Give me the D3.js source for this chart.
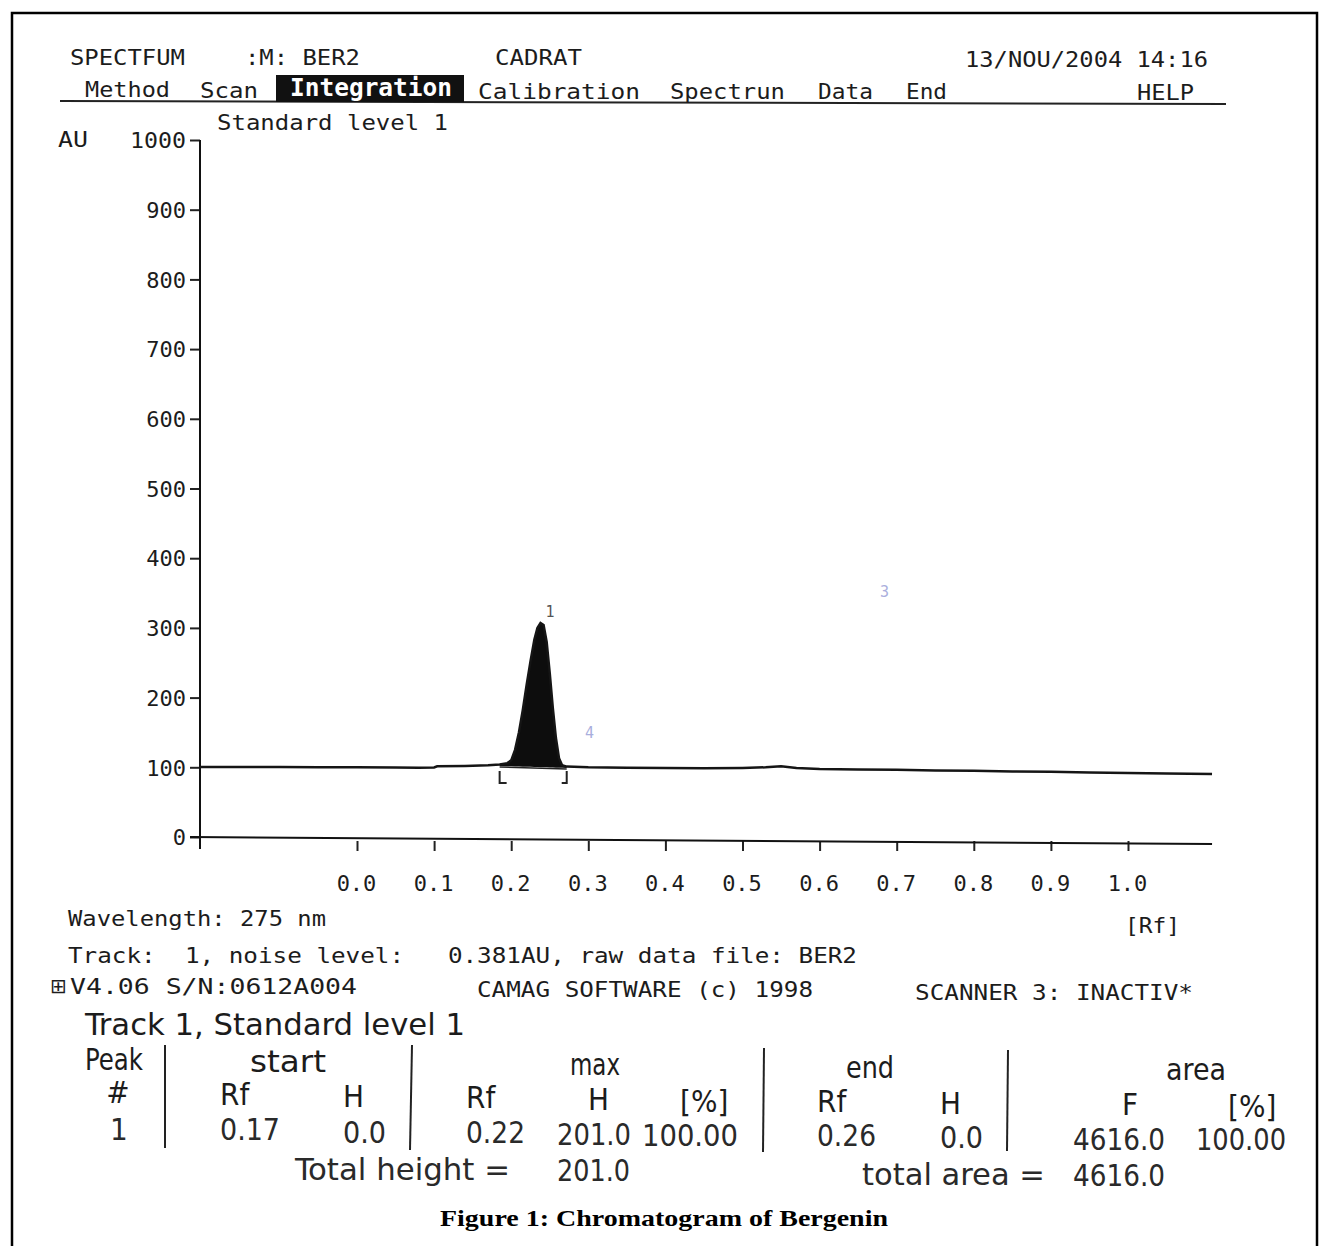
<!DOCTYPE html>
<html>
<head>
<meta charset="utf-8">
<script src="https://cdn.jsdelivr.net/npm/d3@7"></script>
<style>
  body { margin: 0; background: #fff; }
  svg text { white-space: pre; }
</style>
</head>
<body>
<div id="chart"></div>
<script>
// densitogram trace (Rf on the printed axis, AU)
var scanRf = [-0.204, -0.15, -0.1, -0.05, 0.0, 0.05, 0.08, 0.1, 0.104, 0.14, 0.17, 0.185,
  0.195, 0.2, 0.205, 0.21, 0.215, 0.22, 0.225, 0.23, 0.234, 0.238, 0.242, 0.246, 0.25,
  0.254, 0.258, 0.262, 0.266, 0.272, 0.3, 0.35, 0.4, 0.45, 0.5, 0.53, 0.55, 0.57, 0.6,
  0.65, 0.7, 0.75, 0.8, 0.85, 0.9, 0.95, 1.0, 1.05, 1.109];
var scanAU = [100.5, 100.5, 100.5, 100.2, 100, 99.8, 99.5, 99.8, 101.5, 102, 103, 104,
  106, 110, 125, 150, 182, 218, 252, 283, 300, 307, 304, 280, 235,
  185, 142, 113, 103, 101, 100, 99.5, 99, 98.5, 99, 100, 101.5, 99, 97.5,
  97, 96.5, 95.5, 95, 94, 93.5, 92.5, 92, 91, 90.5];

var peakStartRf = 0.185;
var peakEndRf = 0.272;
var peakMaxRf = 0.238;
var peakNumber = "1";

var yTicks = [0, 100, 200, 300, 400, 500, 600, 700, 800, 900, 1000];
var xTicks = [0, 0.1, 0.2, 0.3, 0.4, 0.5, 0.6, 0.7, 0.8, 0.9, 1.0];
var xTickLabels = ["0.0", "0.1", "0.2", "0.3", "0.4", "0.5", "0.6", "0.7", "0.8", "0.9", "1.0"];

var menuItems = ["Method", "Scan", "Integration", "Calibration", "Spectrun", "Data", "End", "HELP"];

// result table
var tableTitle = "Track 1, Standard level 1";
var groupHeads = ["start", "max", "end", "area"];
var colHeads = ["Rf", "H", "Rf", "H", "[%]", "Rf", "H", "F", "[%]"];
var peakRow = ["1", "0.17", "0.0", "0.22", "201.0", "100.00", "0.26", "0.0", "4616.0", "100.00"];
var totalHeight = "201.0";
var totalArea = "4616.0";

var W = 1320, H = 1246;
var mono = "'DejaVu Sans Mono', 'Liberation Mono', monospace";
var narrow = "'Liberation Sans Narrow', 'DejaVu Sans Condensed', 'Liberation Sans', sans-serif";
var ink = "#1c1c1c";

var svg = d3.select("#chart").append("svg")
  .attr("width", W)
  .attr("height", H);

svg.append("rect")
  .attr("x", 12).attr("y", 13)
  .attr("width", 1305).attr("height", 1260)
  .attr("fill", "#fff")
  .attr("stroke", "#000")
  .attr("stroke-width", 2.5);

function label(x, y, str, opt) {
  opt = opt || {};
  var t = svg.append("text")
    .attr("x", x).attr("y", y)
    .attr("font-family", opt.font || mono)
    .attr("font-size", opt.size || 22)
    .attr("fill", opt.fill || ink)
    .attr("text-anchor", opt.anchor || "start")
    .text(str);
  if (opt.w) t.attr("textLength", opt.w).attr("lengthAdjust", "spacingAndGlyphs");
  if (opt.weight) t.attr("font-weight", opt.weight);
  return t;
}

// ---- screen header ----
label(70, 65, "SPECTFUM", { w: 115 });
label(245, 65, ":M: BER2", { w: 115 });
label(495, 65, "CADRAT", { w: 87 });
label(965, 67, "13/NOU/2004 14:16", { w: 243 });

svg.append("path")
  .attr("d", "M60,101 L1226,104")
  .attr("stroke", "#222").attr("stroke-width", 2).attr("fill", "none");

var menuPos = [[85, 97, 85], [200, 98, 58], [290, 96, 162], [478, 99, 162],
  [670, 99, 115], [818, 99, 55], [906, 99, 41], [1137, 100, 57]];
svg.append("rect")
  .attr("x", 276).attr("y", 75).attr("width", 188).attr("height", 27)
  .attr("fill", "#111");
menuItems.forEach(function (m, i) {
  var p = menuPos[i];
  if (m === "Integration") {
    label(p[0], p[1], m, { w: p[2], fill: "#fff", weight: "bold", size: 24 });
  } else {
    label(p[0], p[1], m, { w: p[2] });
  }
});

label(217, 130, "Standard level 1", { w: 231 });
label(58, 147, "AU", { w: 30 });

// ---- chart ----
var x = d3.scaleLinear().domain([0, 1]).range([357, 1128]);
var y = d3.scaleLinear().domain([0, 1000]).range([837, 140]);

var yAxis = d3.axisLeft(y)
  .tickValues(yTicks)
  .tickSize(10)
  .tickSizeOuter(0)
  .tickPadding(4)
  .tickFormat(d3.format("d"));

var gy = svg.append("g")
  .attr("transform", "translate(200,0)")
  .call(yAxis);
gy.select(".domain").remove();
gy.selectAll("line").attr("stroke", "#222").attr("stroke-width", 2);
gy.selectAll("text")
  .attr("font-family", mono)
  .attr("font-size", 22)
  .attr("fill", ink)
  .attr("dy", "0.35em");
gy.selectAll("text").filter(function (d) { return d === 1000; })
  .attr("textLength", 56).attr("lengthAdjust", "spacingAndGlyphs");

svg.append("line")
  .attr("x1", 200).attr("x2", 200)
  .attr("y1", y(1000)).attr("y2", y(0) + 12)
  .attr("stroke", "#111").attr("stroke-width", 2);

// the printed Rf axis runs slightly downhill to the right
var axisY0 = y(0), axisY1 = y(0) + 7;
var xAxis = d3.axisBottom(x)
  .tickValues(xTicks)
  .tickSize(10)
  .tickSizeOuter(0)
  .tickFormat(function (d, i) { return xTickLabels[i]; });

var gx = svg.append("g")
  .attr("transform", "translate(0," + (axisY0 + 4) + ")")
  .call(xAxis);
gx.select(".domain").remove();
gx.selectAll("line").attr("stroke", "#222").attr("stroke-width", 2);
gx.selectAll("text")
  .attr("font-family", mono)
  .attr("font-size", 22)
  .attr("fill", ink)
  .attr("y", 50)
  .attr("dy", 0)
  .attr("dx", -1);

svg.append("line")
  .attr("x1", 190).attr("x2", x(scanRf[scanRf.length - 1]))
  .attr("y1", axisY0).attr("y2", axisY1)
  .attr("stroke", "#111").attr("stroke-width", 2);

// peak fill between trace and integration baseline
var scan = scanRf.map(function (r, i) { return { rf: r, au: scanAU[i] }; });
var startAU = scanAU[scanRf.indexOf(peakStartRf)];
var endAU = scanAU[scanRf.indexOf(peakEndRf)];
function baseAt(r) {
  return startAU + (endAU - startAU) * (r - peakStartRf) / (peakEndRf - peakStartRf) - 2;
}
var peakPts = scan.filter(function (d) { return d.rf >= peakStartRf && d.rf <= peakEndRf; });

svg.append("path")
  .datum(peakPts)
  .attr("fill", "#0d0d0d")
  .attr("d", d3.area()
    .x(function (d) { return x(d.rf); })
    .y0(function (d) { return y(baseAt(d.rf)); })
    .y1(function (d) { return y(d.au); }));

svg.append("line")
  .attr("x1", x(peakStartRf)).attr("x2", x(peakEndRf))
  .attr("y1", y(baseAt(peakStartRf)) + 1).attr("y2", y(baseAt(peakEndRf)) + 1)
  .attr("stroke", "#222").attr("stroke-width", 1.5);

svg.append("path")
  .datum(scan)
  .attr("fill", "none")
  .attr("stroke", "#151515")
  .attr("stroke-width", 2.5)
  .attr("d", d3.line()
    .x(function (d) { return x(d.rf); })
    .y(function (d) { return y(d.au); }));

// integration brackets
var by = y(baseAt(peakStartRf));
svg.append("path")
  .attr("d", "M" + x(peakStartRf) + "," + (by + 5) + " V" + (by + 17) + " H" + (x(peakStartRf) + 7))
  .attr("fill", "none").attr("stroke", "#222").attr("stroke-width", 2);
svg.append("path")
  .attr("d", "M" + x(peakEndRf) + "," + (by + 5) + " V" + (by + 17) + " H" + (x(peakEndRf) - 5))
  .attr("fill", "none").attr("stroke", "#222").attr("stroke-width", 2);

label(x(peakMaxRf) + 5, y(d3.max(scanAU)) - 6, peakNumber, { size: 15, fill: "#555" });

// faint pencil marks on the scan
label(880, 597, "3", { size: 15, fill: "#a9aedd" });
label(585, 738, "4", { size: 15, fill: "#a9aedd" });

// ---- footer lines ----
label(68, 926, "Wavelength: 275 nm", { w: 258 });
label(1125, 933, "[Rf]", { w: 55 });
label(68, 963, "Track:  1, noise level:   0.381AU, raw data file: BER2", { w: 789 });
label(50, 993, "\u229e", { size: 20, font: "'DejaVu Sans', sans-serif" });
label(70, 994, "V4.06 S/N:0612A004", { w: 287 });
label(477, 997, "CAMAG SOFTWARE (c) 1998", { w: 336 });
label(915, 1000, "SCANNER 3: INACTIV*", { w: 278 });

// ---- result table ----
var tsize = 31;
label(85, 1035, tableTitle, { font: narrow, size: tsize, w: 380 });
label(85, 1070, "Peak", { font: narrow, size: tsize, w: 58 });
label(118, 1103, "#", { font: narrow, size: tsize, anchor: "middle" });

var groupPos = [[288, 1072, 76], [595, 1075, 50], [870, 1078, 48], [1196, 1080, 60]];
groupHeads.forEach(function (g, i) {
  label(groupPos[i][0], groupPos[i][1], g, { font: narrow, size: tsize, anchor: "middle", w: groupPos[i][2] });
});

var colPos = [[220, 1105], [343, 1107], [466, 1108], [588, 1110], [680, 1112],
  [817, 1112], [940, 1114], [1122, 1115], [1228, 1117]];
colHeads.forEach(function (c, i) {
  label(colPos[i][0], colPos[i][1], c, { font: narrow, size: tsize });
});

var rowPos = [[110, 1140, 0], [220, 1140, 60], [343, 1143, 43], [466, 1143, 59], [557, 1145, 74],
  [642, 1146, 96], [817, 1146, 59], [940, 1148, 43], [1073, 1150, 92], [1196, 1150, 90]];
peakRow.forEach(function (v, i) {
  var o = { font: narrow, size: tsize, fill: "#2a2a2a" };
  if (rowPos[i][2]) o.w = rowPos[i][2];
  label(rowPos[i][0], rowPos[i][1], v, o);
});

label(295, 1180, "Total height =", { font: narrow, size: tsize, w: 215, fill: "#2a2a2a" });
label(557, 1181, totalHeight, { font: narrow, size: tsize, w: 73, fill: "#2a2a2a" });
label(862, 1185, "total area =", { font: narrow, size: tsize, w: 183, fill: "#2a2a2a" });
label(1073, 1186, totalArea, { font: narrow, size: tsize, w: 92, fill: "#2a2a2a" });

var dividers = [[165, 1045, 165, 1148], [412, 1045, 410, 1150], [764, 1048, 763, 1152], [1008, 1050, 1007, 1151]];
dividers.forEach(function (d) {
  svg.append("line")
    .attr("x1", d[0]).attr("y1", d[1]).attr("x2", d[2]).attr("y2", d[3])
    .attr("stroke", "#222").attr("stroke-width", 2);
});

// caption
label(664, 1226, "Figure 1: Chromatogram of Bergenin", {
  font: "'Liberation Serif', 'Times New Roman', serif",
  size: 24, weight: "bold", anchor: "middle", w: 448, fill: "#000"
});
</script>
</body>
</html>
